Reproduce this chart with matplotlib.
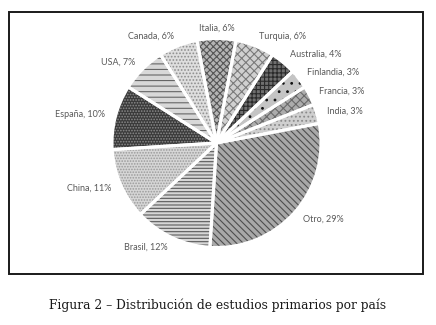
import matplotlib.pyplot as plt
from matplotlib.patches import Rectangle

# data, clockwise from the top
countries = ['Italia', 'Turquia', 'Australia', 'Finlandia', 'Francia', 'India',
             'Otro', 'Brasil', 'China', 'España', 'USA', 'Canada']
shares = [6, 6, 4, 3, 3, 3, 29, 12, 11, 10, 7, 6]

# grey fill + hatch per slice
face_colors = ['#b4b4b4', '#d0d0d0', '#6e6e6e', '#c4c4c4', '#acacac', '#cfcfcf',
               '#a8a8a8', '#d6d6d6', '#d6d6d6', '#3a3a3a', '#d8d8d8', '#dedede']
hatch_colors = ['#555555', '#7a7a7a', '#2a2a2a', '#111111', '#6a6a6a', '#8a8a8a',
                '#4e4e4e', '#5a5a5a', '#9a9a9a', '#8c8c8c', '#666666', '#8e8e8e']
hatches = ['xxxxx', 'xxxx', '++++', '..', 'xxxx', '....',
           '\\\\\\\\\\', '-----', '......', '......', '---', '.....']

plt.rcParams['hatch.linewidth'] = 0.8

fig = plt.figure(figsize=(4.36, 3.25), dpi=100)
W, H = 436, 325
cx, cy, r = 216.5, 143, 104.5
ax = fig.add_axes([(cx - r) / W, (H - cy - r) / H, 2 * r / W, 2 * r / H])

labels = [f"{c}, {v}%" for c, v in zip(countries, shares)]
start = 90 + shares[0] / 100 * 360 / 2

wedges, texts = ax.pie(shares, labels=labels, startangle=start, counterclock=False,
                       colors=face_colors, labeldistance=1.1,
                       wedgeprops=dict(linewidth=0),
                       textprops=dict(color='#595959', fontsize=6.5, family='Lato'))
for w, h, hc in zip(wedges, hatches, hatch_colors):
    w.set_hatch(h)
    w.set_edgecolor(hc)
    w.set_linewidth(0)

# white separators on top
ax.pie(shares, startangle=start, counterclock=False,
       wedgeprops=dict(fill=False, edgecolor='white', linewidth=2.2))

texts[0].set_horizontalalignment('center')

ax.set_xlim(-1, 1)
ax.set_ylim(-1, 1)
ax.set_aspect('equal')
ax.axis('off')

# frame around the chart
fig.add_artist(Rectangle((9 / W, (H - 274) / H), (423 - 9) / W, (274 - 12) / H,
                         transform=fig.transFigure, fill=False, lw=1.4, ec='#1a1a1a'))

fig.text(218 / W, 1 - 305 / H, 'Figura 2 – Distribución de estudios primarios por país',
         ha='center', va='center', fontsize=8.8, family='DejaVu Serif', color='#1a1a1a')

fig.savefig('out.png', dpi=100)
